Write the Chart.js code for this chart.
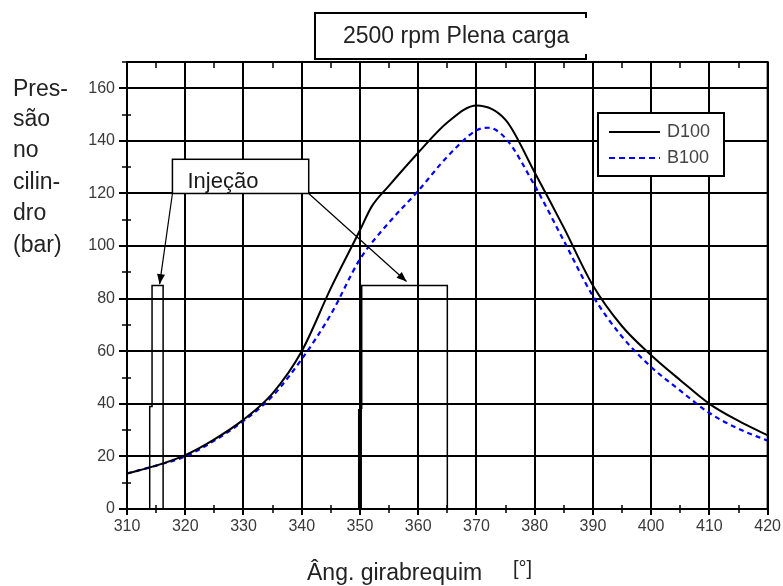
<!DOCTYPE html>
<html>
<head>
<meta charset="utf-8">
<script src="https://cdn.jsdelivr.net/npm/chart.js@4.4.1/dist/chart.umd.min.js"></script>
<style>
  body { margin: 0; background: #fff; }
  #wrap { width: 783px; height: 586px; }
</style>
</head>
<body>
<div id="wrap"><canvas id="myChart" width="783" height="586"></canvas></div>
<script>
// pressure curves
const anglesD = [310, 315, 320, 325, 330, 335, 340, 345, 350, 352, 355, 360, 365, 370, 375, 380, 385, 390, 395, 400, 405, 410, 415, 420];
const d100 = [13.5, 16.5, 20.5, 26.5, 34, 44, 60, 84, 106, 115, 123, 135.5, 147, 153.5, 148, 128, 107, 85, 69.5, 58.5, 49, 40, 33.5, 28];

const anglesB = [310, 315, 320, 325, 330, 335, 340, 345, 350, 355, 360, 365, 370, 372, 375, 380, 385, 390, 395, 400, 405, 410, 415, 420];
const b100 = [13.5, 16.5, 20, 26, 33.5, 43, 57, 74, 95, 109, 121, 134, 144, 145, 141, 123, 102, 81, 65.5, 54, 45, 36.5, 30.5, 26];

// injection pulses
const pulseLeftX = [313.9, 313.9, 314.3, 314.3, 316.2, 316.2];
const pulseLeftY = [0, 39, 39, 85, 85, 0];
const pulseRightX = [350.3, 350.3, 365, 365];
const pulseRightY = [38, 85, 85, 0];
const spikeX = [350, 350];
const spikeY = [0, 38];

const xTicks = [310, 320, 330, 340, 350, 360, 370, 380, 390, 400, 410, 420];
const yTicks = [0, 20, 40, 60, 80, 100, 120, 140, 160];

function pts(xs, ys) {
    let out = [];
    for (let i = 0; i < xs.length; i++) out.push({x: xs[i], y: ys[i]});
    return out;
}

const font = '"Liberation Sans", Arial, sans-serif';

function arrow(ctx, x1, y1, x2, y2) {
    ctx.beginPath();
    ctx.moveTo(x1, y1);
    ctx.lineTo(x2, y2);
    ctx.stroke();
    let a = Math.atan2(y2 - y1, x2 - x1);
    let L = 10, W = 4;
    ctx.beginPath();
    ctx.moveTo(x2, y2);
    ctx.lineTo(x2 - L * Math.cos(a) + W * Math.sin(a), y2 - L * Math.sin(a) - W * Math.cos(a));
    ctx.lineTo(x2 - L * Math.cos(a) - W * Math.sin(a), y2 - L * Math.sin(a) + W * Math.cos(a));
    ctx.closePath();
    ctx.fill();
}

const extras = {
    id: 'extras',
    afterDatasetsDraw(chart) {
        const ctx = chart.ctx;
        const xs = chart.scales.x, ys = chart.scales.y;
        const a = chart.chartArea;
        ctx.save();
        ctx.strokeStyle = '#000';
        ctx.fillStyle = '#000';

        // frame
        ctx.lineWidth = 2;
        ctx.strokeRect(a.left, a.top, a.right - a.left, a.bottom - a.top);

        // minor ticks
        ctx.lineWidth = 1.5;
        for (let v = 315; v < 420; v += 10) {
            let px = Math.round(xs.getPixelForValue(v));
            ctx.beginPath();
            ctx.moveTo(px, a.bottom - 4); ctx.lineTo(px, a.bottom + 4);
            ctx.moveTo(px, a.top); ctx.lineTo(px, a.top + 6);
            ctx.stroke();
        }
        for (let v = 10; v <= 170; v += 20) {
            let py = Math.round(ys.getPixelForValue(v));
            ctx.beginPath();
            ctx.moveTo(a.left - 5, py); ctx.lineTo(a.left + 4, py);
            ctx.stroke();
        }

        // Injeção box and arrows
        let bx1 = xs.getPixelForValue(317.8), bx2 = xs.getPixelForValue(341.2);
        let by1 = ys.getPixelForValue(133), by2 = ys.getPixelForValue(120);
        ctx.fillStyle = '#fff';
        ctx.fillRect(bx1, by1, bx2 - bx1, by2 - by1);
        ctx.lineWidth = 1.5;
        ctx.strokeRect(bx1, by1, bx2 - bx1, by2 - by1);
        ctx.fillStyle = '#1a1a1a';
        ctx.font = '22px ' + font;
        ctx.textAlign = 'left';
        ctx.textBaseline = 'middle';
        ctx.fillText('Injeção', bx1 + 15, by1 + 23);
        ctx.fillStyle = '#000';
        ctx.lineWidth = 1.2;
        arrow(ctx, bx1, by2, xs.getPixelForValue(315.6), ys.getPixelForValue(85.5));
        arrow(ctx, bx2, by2, xs.getPixelForValue(358), ys.getPixelForValue(86.5));

        // legend
        ctx.fillStyle = '#fff';
        ctx.fillRect(598, 113, 126, 63);
        ctx.lineWidth = 2;
        ctx.strokeRect(598, 113, 126, 63);
        ctx.strokeStyle = '#000';
        ctx.beginPath(); ctx.moveTo(609, 132); ctx.lineTo(660, 132); ctx.stroke();
        ctx.strokeStyle = '#0000ff';
        ctx.setLineDash([6, 4]);
        ctx.beginPath(); ctx.moveTo(609, 158); ctx.lineTo(660, 158); ctx.stroke();
        ctx.setLineDash([]);
        ctx.fillStyle = '#444';
        ctx.font = '18px ' + font;
        ctx.fillText('D100', 667, 132);
        ctx.fillText('B100', 667, 158);

        // title box
        ctx.strokeStyle = '#000';
        ctx.lineWidth = 2;
        ctx.beginPath();
        ctx.moveTo(586, 18); ctx.lineTo(586, 13); ctx.lineTo(315, 13);
        ctx.lineTo(315, 59); ctx.lineTo(586, 59); ctx.lineTo(586, 54);
        ctx.stroke();
        ctx.fillStyle = '#222';
        ctx.font = '23px ' + font;
        ctx.textAlign = 'left';
        ctx.fillText('2500 rpm Plena carga', 343, 37);

        // y title
        ctx.font = '23px ' + font;
        const yLines = ['Pres-', 'são', 'no', 'cilin-', 'dro', '(bar)'];
        const yPos = [90, 120, 151, 183, 214, 246];
        for (let i = 0; i < yLines.length; i++) ctx.fillText(yLines[i], 13, yPos[i]);

        // x title
        ctx.fillText('Âng. girabrequim', 307, 574);
        ctx.font = '20px ' + font;
        ctx.fillText('[°]', 513, 569);
        ctx.restore();
    }
};

const ctx = document.getElementById('myChart');
const myChart = new Chart(ctx, {
    type: 'line',
    data: {
        datasets: [
            {label: 'D100', data: pts(anglesD, d100), borderColor: '#000', borderWidth: 2,
             pointRadius: 0, cubicInterpolationMode: 'monotone'},
            {label: 'B100', data: pts(anglesB, b100), borderColor: '#0000ff', borderWidth: 2.2,
             borderDash: [5, 4], pointRadius: 0, cubicInterpolationMode: 'monotone'},
            {label: 'pulse1', data: pts(pulseLeftX, pulseLeftY), borderColor: '#000', borderWidth: 1.5,
             pointRadius: 0, tension: 0},
            {label: 'pulse2', data: pts(pulseRightX, pulseRightY), borderColor: '#000', borderWidth: 1.5,
             pointRadius: 0, tension: 0},
            {label: 'spike', data: pts(spikeX, spikeY), borderColor: '#000', borderWidth: 4,
             pointRadius: 0, tension: 0}
        ]
    },
    options: {
        responsive: false,
        animation: false,
        layout: {padding: {top: 62, right: 13, left: 0, bottom: 0}},
        plugins: {legend: {display: false}, tooltip: {enabled: false}},
        scales: {
            x: {
                type: 'linear', min: 310, max: 420,
                afterBuildTicks: s => { s.ticks = xTicks.map(v => ({value: v})); },
                afterFit: s => { s.height = 77; },
                grid: {color: '#000', lineWidth: 2, tickLength: 6},
                border: {display: false},
                ticks: {color: '#3a3a3a', padding: 2, font: {family: font, size: 16}}
            },
            y: {
                type: 'linear', min: 0, max: 170,
                afterBuildTicks: s => { s.ticks = yTicks.map(v => ({value: v})); },
                afterFit: s => { s.width = 127; },
                grid: {color: '#000', lineWidth: 2, tickLength: 8},
                border: {display: false},
                ticks: {color: '#3a3a3a', padding: 4, font: {family: font, size: 16}}
            }
        }
    },
    plugins: [extras]
});
</script>
</body>
</html>
